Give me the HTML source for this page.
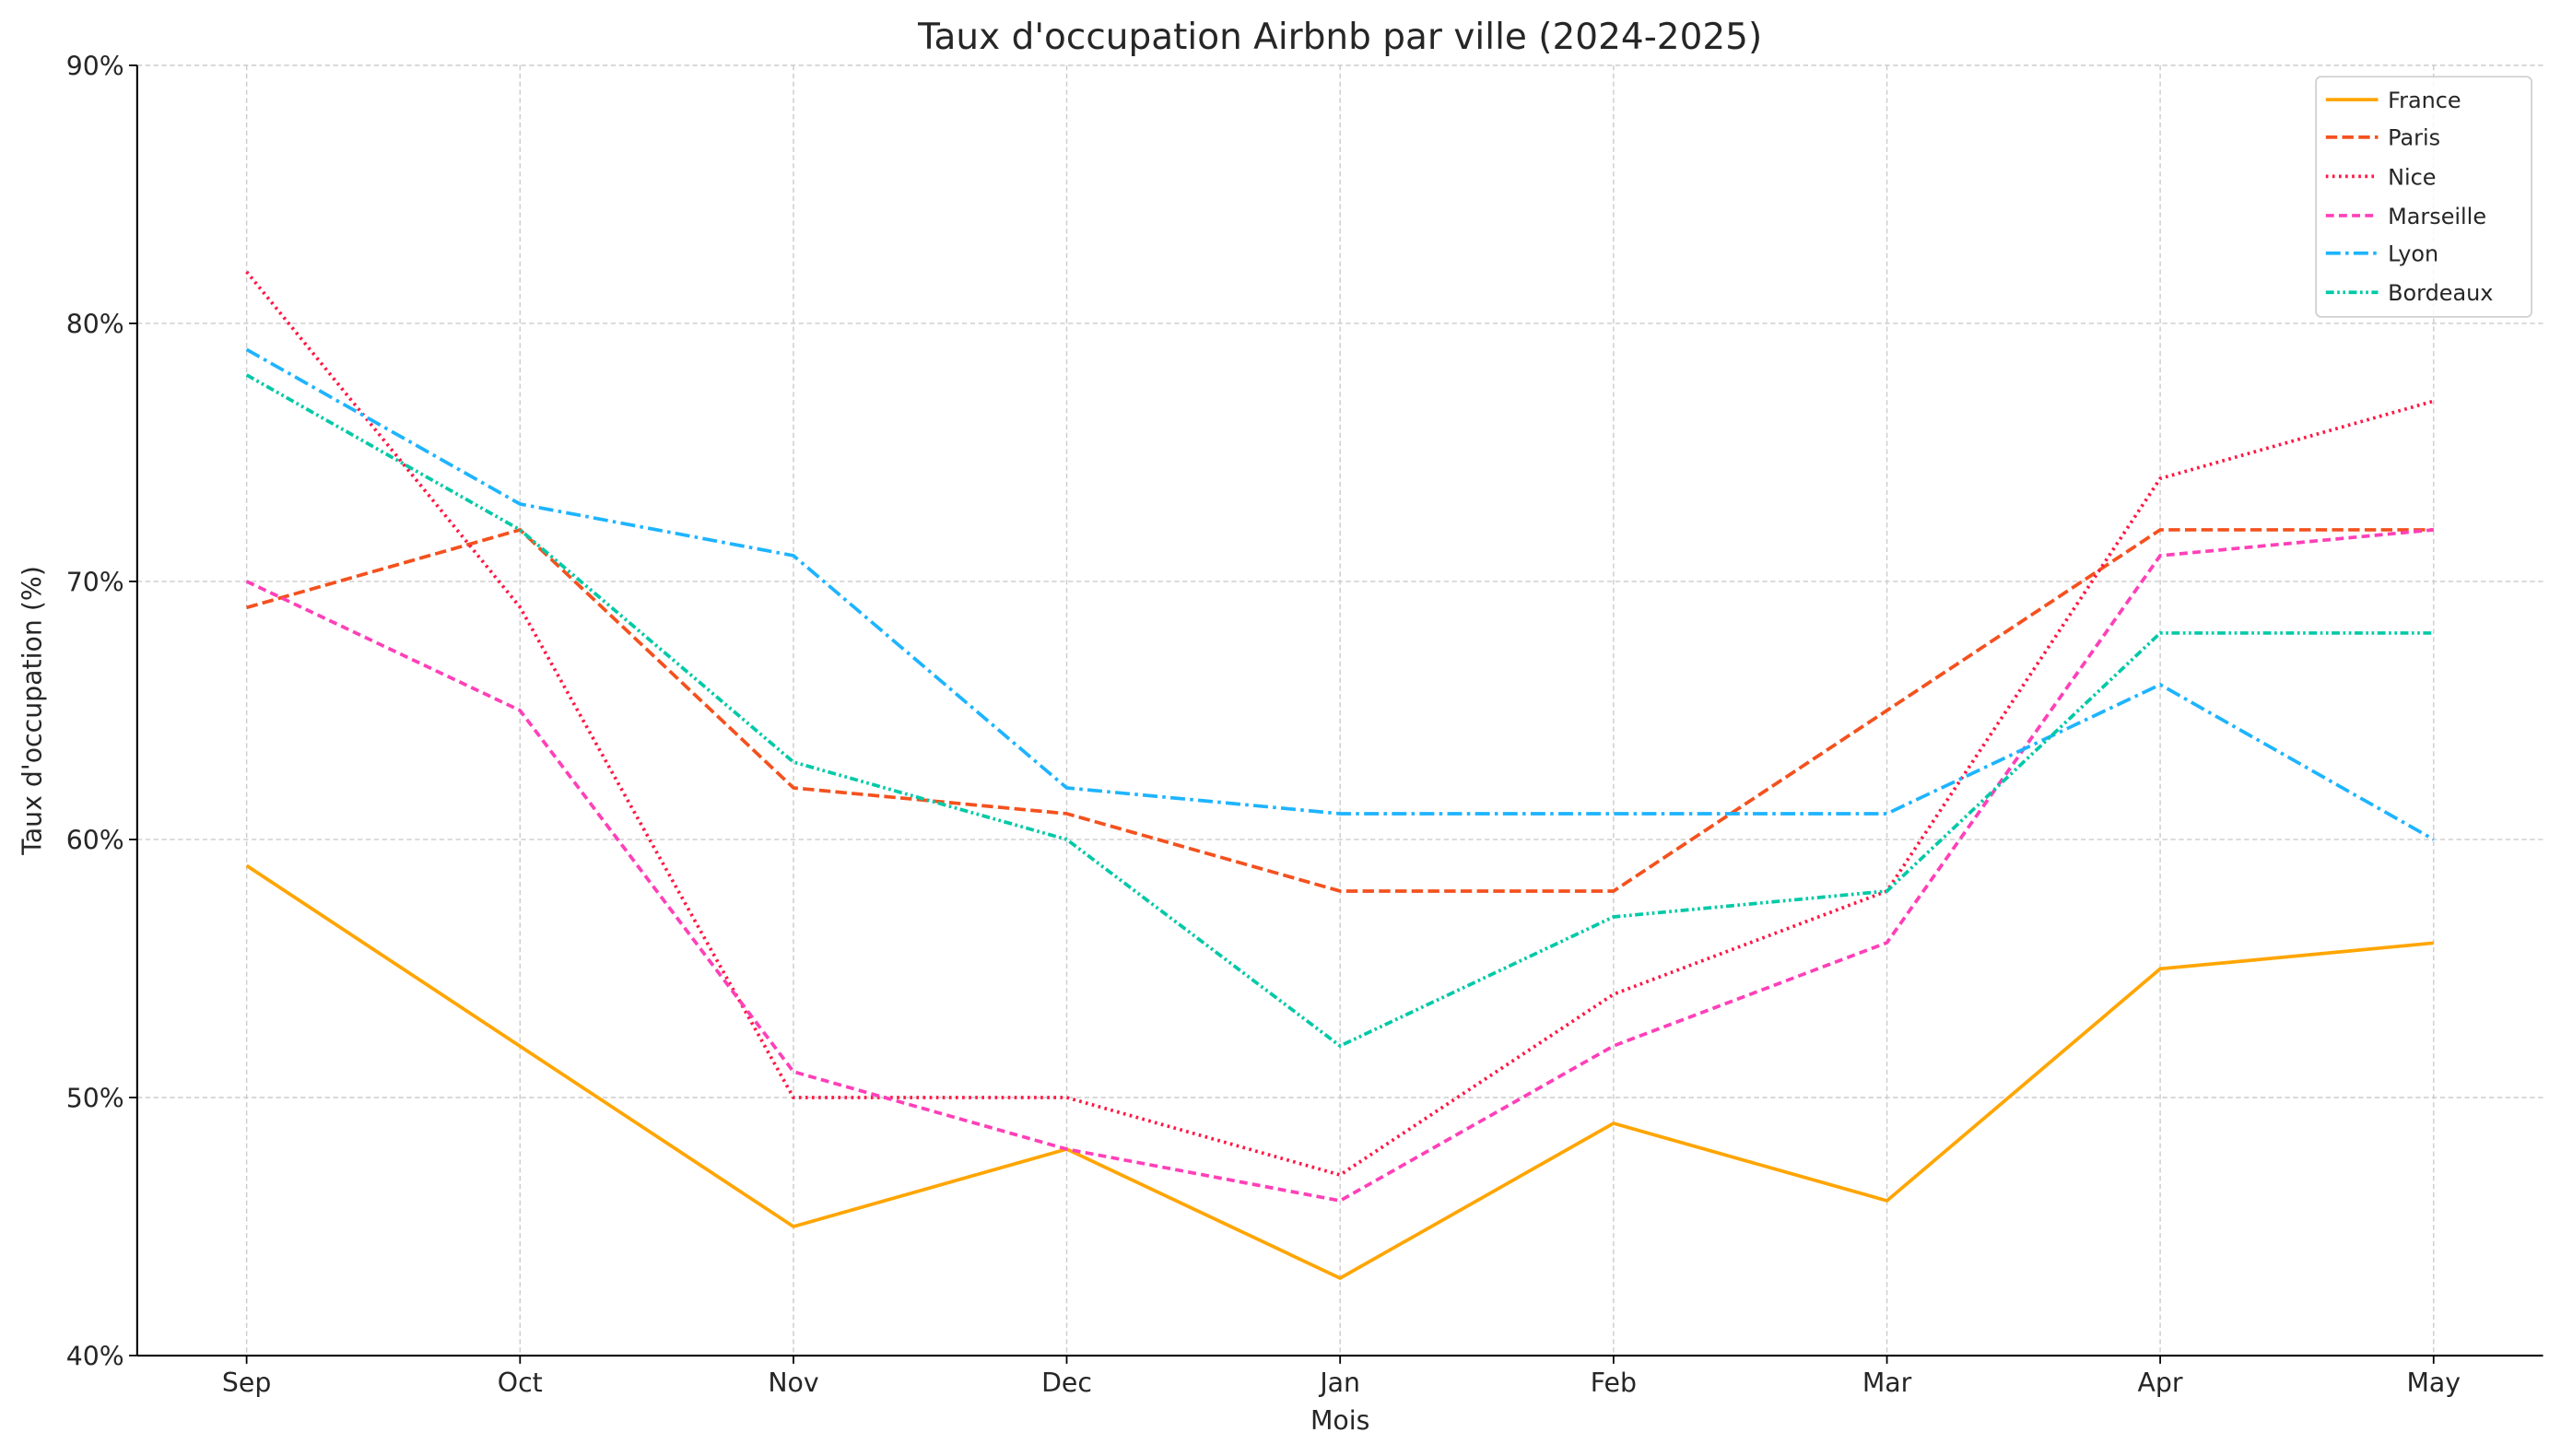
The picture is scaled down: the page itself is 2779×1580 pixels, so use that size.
<!DOCTYPE html>
<html><head><meta charset="utf-8"><style>
html,body{margin:0;padding:0;background:#fff;}
svg{display:block;}
text{font-family:"DejaVu Sans","Liberation Sans",sans-serif;fill:#262626;}
</style></head><body>
<svg width="2779" height="1580" viewBox="0 0 1568 891.5" preserveAspectRatio="none" xmlns="http://www.w3.org/2000/svg">
<rect width="1568" height="891.5" fill="#fff"/>
<g stroke="#cccccc" stroke-width="0.8" stroke-dasharray="3,2">
<line x1="151" y1="40" x2="151" y2="830"/><line x1="318.4" y1="40" x2="318.4" y2="830"/>
<line x1="485.8" y1="40" x2="485.8" y2="830"/><line x1="653.1" y1="40" x2="653.1" y2="830"/>
<line x1="820.5" y1="40" x2="820.5" y2="830"/><line x1="987.9" y1="40" x2="987.9" y2="830"/>
<line x1="1155.3" y1="40" x2="1155.3" y2="830"/><line x1="1322.6" y1="40" x2="1322.6" y2="830"/>
<line x1="1490" y1="40" x2="1490" y2="830"/>
<line x1="84" y1="198" x2="1557" y2="198"/><line x1="84" y1="356" x2="1557" y2="356"/>
<line x1="84" y1="514" x2="1557" y2="514"/><line x1="84" y1="672" x2="1557" y2="672"/>
<line x1="84" y1="40" x2="1557" y2="40"/>
</g>
<g fill="none" stroke-width="2.1">
<polyline stroke="#FFA500" points="151,530 318.4,640.6 485.8,751 653.1,703.6 820.5,782.6 987.9,687.8 1155.3,735.2 1322.6,593.2 1490,577.4"/>
<polyline stroke="#F4511E" stroke-dasharray="7,3" points="151,372 318.4,324.4 485.8,482.4 653.1,498.2 820.5,545.6 987.9,545.6 1155.3,435 1322.6,324.4 1490,324.4"/>
<polyline stroke="#FF1744" stroke-dasharray="1.5,2.5" points="151,166.4 318.4,371.8 485.8,672 653.1,672 820.5,719.4 987.9,608.8 1155.3,545.6 1322.6,293 1490,245.6"/>
<polyline stroke="#FF40B8" stroke-dasharray="5,3" points="151,356 318.4,435 485.8,656.2 653.1,703.6 820.5,735.2 987.9,640.4 1155.3,577.2 1322.6,340.2 1490,324.4"/>
<polyline stroke="#1EB4FF" stroke-dasharray="9,3,2,3" points="151,214 318.4,308.6 485.8,340.2 653.1,482.4 820.5,498.2 987.9,498.2 1155.3,498.2 1322.6,419.2 1490,514"/>
<polyline stroke="#00C9A7" stroke-dasharray="5,2,1.5,2,1.5,2" points="151,229.6 318.4,324.4 485.8,466.6 653.1,514 820.5,640.4 987.9,561.4 1155.3,545.6 1322.6,387.6 1490,387.6"/>
</g>
<g stroke="#000" stroke-width="1.2" fill="none">
<line x1="84" y1="40" x2="84" y2="830"/><line x1="84" y1="830" x2="1557" y2="830"/>
</g>
<g stroke="#000" stroke-width="1">
<line x1="79" y1="40" x2="84" y2="40"/><line x1="79" y1="198" x2="84" y2="198"/><line x1="79" y1="356" x2="84" y2="356"/>
<line x1="79" y1="514" x2="84" y2="514"/><line x1="79" y1="672" x2="84" y2="672"/><line x1="79" y1="830" x2="84" y2="830"/>
<line x1="151" y1="830" x2="151" y2="835"/><line x1="318.4" y1="830" x2="318.4" y2="835"/><line x1="485.8" y1="830" x2="485.8" y2="835"/>
<line x1="653.1" y1="830" x2="653.1" y2="835"/><line x1="820.5" y1="830" x2="820.5" y2="835"/><line x1="987.9" y1="830" x2="987.9" y2="835"/>
<line x1="1155.3" y1="830" x2="1155.3" y2="835"/><line x1="1322.6" y1="830" x2="1322.6" y2="835"/><line x1="1490" y1="830" x2="1490" y2="835"/>
</g>
<g font-size="16" text-anchor="end">
<text x="76" y="46">90%</text><text x="76" y="204">80%</text><text x="76" y="362">70%</text>
<text x="76" y="520">60%</text><text x="76" y="678">50%</text><text x="76" y="836">40%</text>
</g>
<g font-size="16" text-anchor="middle">
<text x="151" y="852">Sep</text><text x="318.4" y="852">Oct</text><text x="485.8" y="852">Nov</text>
<text x="653.1" y="852">Dec</text><text x="820.5" y="852">Jan</text><text x="987.9" y="852">Feb</text>
<text x="1155.3" y="852">Mar</text><text x="1322.6" y="852">Apr</text><text x="1490" y="852">May</text>
<text x="820.5" y="875">Mois</text>
<text x="820.5" y="30" font-size="22">Taux d'occupation Airbnb par ville (2024-2025)</text>
<text transform="translate(25,435) rotate(-90)">Taux d'occupation (%)</text>
</g>
<rect x="1418" y="47" width="132" height="147" rx="3" fill="#fff" fill-opacity="0.85" stroke="#d0d0d0" stroke-width="1"/>
<g stroke-width="2.1" fill="none">
<line x1="1424" y1="61" x2="1456" y2="61" stroke="#FFA500"/>
<line x1="1424" y1="84" x2="1456" y2="84" stroke="#F4511E" stroke-dasharray="7,3"/>
<line x1="1424" y1="108" x2="1456" y2="108" stroke="#FF1744" stroke-dasharray="1.5,2.5"/>
<line x1="1424" y1="132" x2="1456" y2="132" stroke="#FF40B8" stroke-dasharray="5,3"/>
<line x1="1424" y1="155" x2="1456" y2="155" stroke="#1EB4FF" stroke-dasharray="9,3,2,3"/>
<line x1="1424" y1="179" x2="1456" y2="179" stroke="#00C9A7" stroke-dasharray="5,2,1.5,2,1.5,2"/>
</g>
<g font-size="13.5">
<text x="1462" y="66">France</text><text x="1462" y="89">Paris</text><text x="1462" y="113">Nice</text>
<text x="1462" y="137">Marseille</text><text x="1462" y="160">Lyon</text><text x="1462" y="184">Bordeaux</text>
</g>
</svg>
</body></html>
